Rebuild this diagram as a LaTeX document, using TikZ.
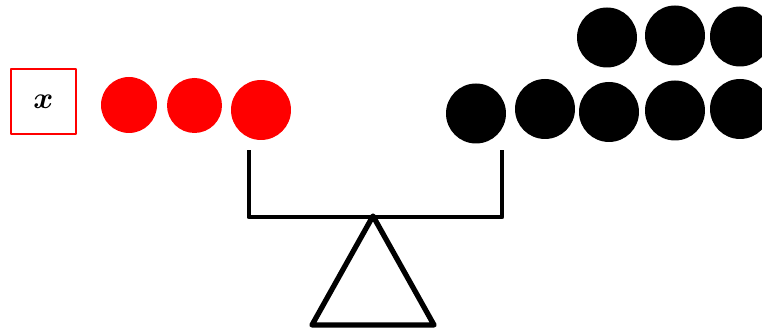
\documentclass[tikz,border=0pt]{standalone}
\usepackage{amsmath,amssymb}
\usepackage{xcolor}
\usepackage{tikz}

\begin{document}
\begin{tikzpicture}[x=0.02cm,y=-0.02cm,line join=round]
\definecolor{weightR}{HTML}{FF0000}
\tikzset{
  unknownbox/.style={draw=weightR,line width=1.3pt,minimum size=1.3cm,inner sep=0pt,font=\fontsize{17}{19}\selectfont},
  redball/.style={circle,fill=weightR,inner sep=0pt,minimum size=#1},
  blackball/.style={circle,fill=black,inner sep=0pt,minimum size=1.2cm},
  beam/.style={line width=2.8pt,line cap=rect}
}
\useasboundingbox (0,0) rectangle (762,333);
% left pan: x and three red weights
\node[unknownbox] (xbox) at (43.5,101.5) {$\boldsymbol{x}$};
\node[redball=1.12cm] (r1) at (129,105) {};
\node[redball=1.1cm] (r2) at (194.5,105.5) {};
\node[redball=1.2cm] (r3) at (261,110) {};
% right pan: eight black weights
\node[blackball] (b1) at (607,37.5) {};
\node[blackball] (b2) at (675,35.5) {};
\node[blackball] (b3) at (740,36.5) {};
\node[blackball] (b4) at (476,113.5) {};
\node[blackball] (b5) at (545,109) {};
\node[blackball] (b6) at (609,112) {};
\node[blackball] (b7) at (675,110.5) {};
\node[blackball] (b8) at (740,109) {};
% balance
\coordinate (postL) at (249,152);
\coordinate (postR) at (502,152);
\coordinate (beamL) at (249,217);
\coordinate (beamR) at (502,217);
\coordinate (pivot) at (373,216);
\draw[beam] (postL) -- (beamL) -- (beamR) -- (postR);
\draw[line width=3pt] (pivot) -- (312,325) -- (434,325) -- cycle;
\end{tikzpicture}
\end{document}
